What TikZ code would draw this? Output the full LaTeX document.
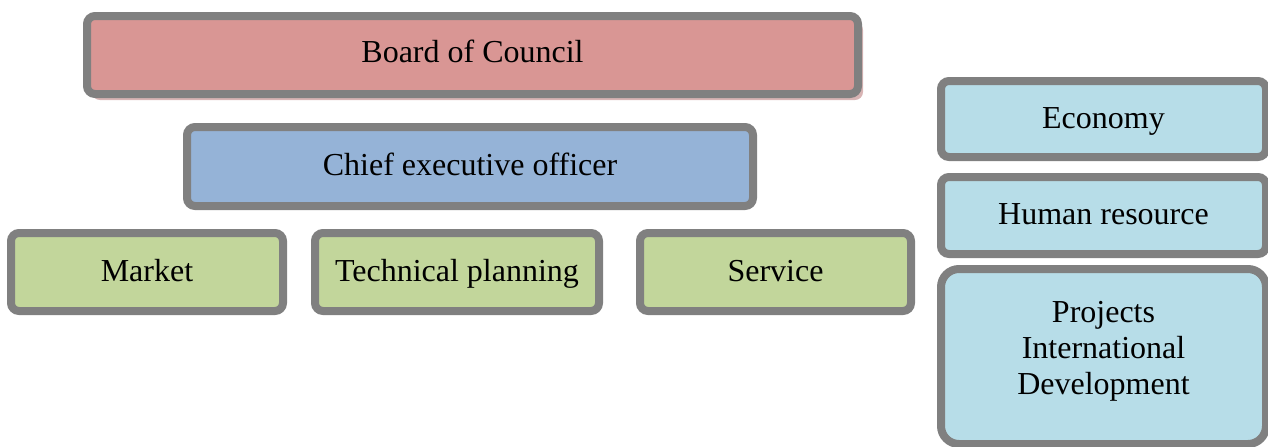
\documentclass[tikz,border=0pt]{standalone}
\usepackage{fontspec}
\setmainfont{Liberation Serif}
\usetikzlibrary{shadows}
\definecolor{boardred}{HTML}{D99694}
\definecolor{boardshade}{HTML}{D8B4B4}
\definecolor{ceoblue}{HTML}{95B3D7}
\definecolor{deptgreen}{HTML}{C2D69B}
\definecolor{staffblue}{HTML}{B7DDE8}
\definecolor{rimgray}{HTML}{808080}
\begin{document}
\begin{tikzpicture}[x=0.5pt,y=-0.5pt]
        \tikzstyle{unit}=[rectangle,rounded corners=4pt,line width=4pt,draw=rimgray,font=\fontsize{16}{18}\selectfont,align=center,inner sep=0pt]
        \tikzstyle{oneline}=[text height=12pt,text depth=3pt]
        \tikzstyle{board}=[unit,text height=11pt,text depth=3.5pt,fill=boardred,drop shadow={shadow xshift=2.5pt,shadow yshift=-3pt,fill=boardshade,opacity=1}]
        \tikzstyle{ceo}=[unit,oneline,fill=ceoblue]
        \tikzstyle{dept}=[unit,oneline,fill=deptgreen,minimum height=39pt]
        \tikzstyle{staff}=[unit,fill=staffblue,minimum width=162.5pt]
       \useasboundingbox (0,0) rectangle (1268,446);
       \begin{scope}
         \node [board,minimum width=385.5pt,minimum height=39pt] (council) at (472.5,55) {Board of Council};
         \node [ceo,minimum width=283pt,minimum height=39.5pt] (chief) at (470,166.5) {Chief executive officer};

         \node [dept,minimum width=136pt] (market) at (147,272) {Market};
         \node [dept,minimum width=142pt] (planning) at (457,272) {Technical planning};
         \node [dept,minimum width=135.5pt] (service) at (775.5,272) {Service};

         \node [staff,oneline,minimum height=38pt] (economy) at (1103.5,119) {Economy};
         \node [staff,oneline,minimum height=38.5pt] (hr) at (1103.5,215.5) {Human resource};
         \node [staff,minimum height=87.5pt,rounded corners=9pt,text depth=8.5pt] (projects) at (1103.5,356.5) {Projects\\International\\Development};
        \end{scope}
      \end{tikzpicture}
\end{document}
